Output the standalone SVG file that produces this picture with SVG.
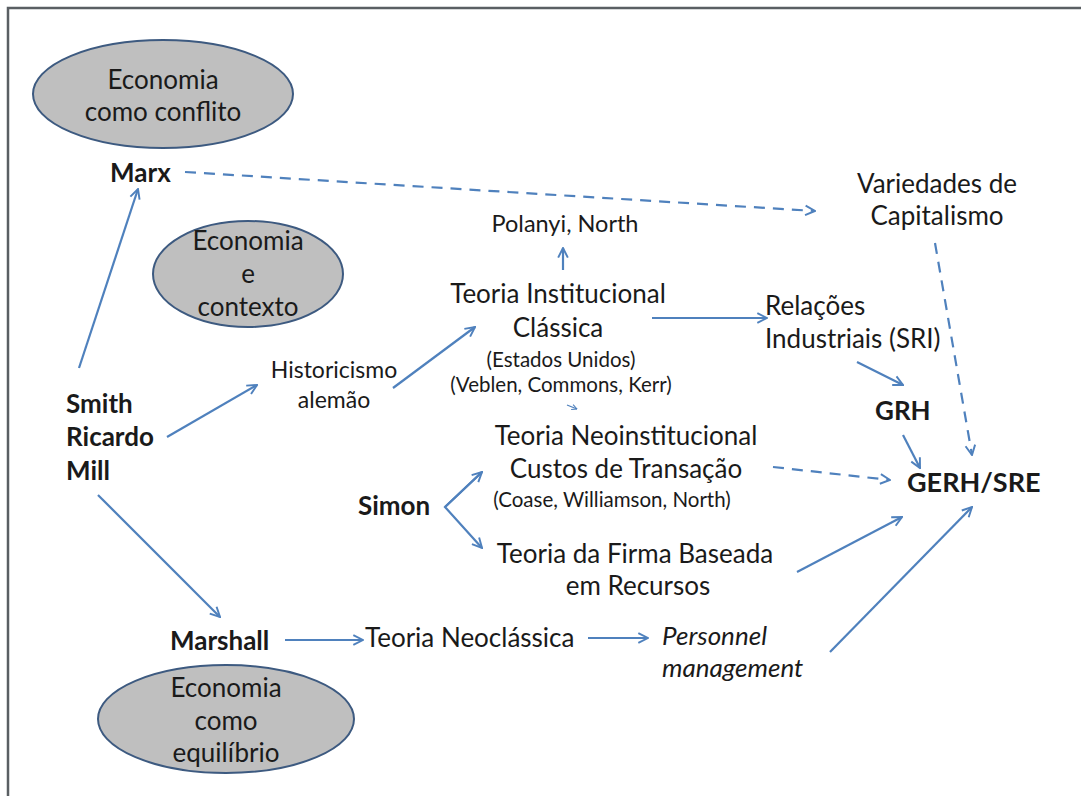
<svg xmlns="http://www.w3.org/2000/svg" width="1081" height="796" viewBox="0 0 1081 796">
<defs>
<marker id="ah" viewBox="0 0 10 10" refX="9" refY="5" markerWidth="5.5" markerHeight="5.5" orient="auto" markerUnits="strokeWidth">
<path d="M1,1 L9,5 L1,9" fill="none" stroke="#4F81BD" stroke-width="1.6"/>
</marker>
</defs>
<style>
.t{font-family:Lato,"Liberation Sans",sans-serif;font-size:26px;fill:#1a1a1a}
.s{font-size:20.5px}
.b{font-weight:bold}
.i{font-style:italic}
.m{text-anchor:middle}
.ell{fill:#BFBFBF;stroke:#3D5A80;stroke-width:2}
.c{fill:none;stroke:#4F81BD;stroke-width:2.2;marker-end:url(#ah)}
.d{stroke-dasharray:11 8}
</style>
<rect x="0" y="0" width="1081" height="796" fill="#fff"/>
<rect x="8" y="8" width="1200" height="900" fill="none" stroke="#5a5f63" stroke-width="2.5"/>

<g id="ell-conflito">
<ellipse class="ell" cx="163" cy="94" rx="130" ry="54"/>
<text class="t m" x="163" y="89">Economia</text>
<text class="t m" x="163" y="121">como conflito</text>
</g>
<g id="ell-contexto">
<ellipse class="ell" cx="248" cy="274" rx="95" ry="53"/>
<text class="t m" x="248" y="250">Economia</text>
<text class="t m" x="248" y="283">e</text>
<text class="t m" x="248" y="316">contexto</text>
</g>
<g id="ell-equilibrio">
<ellipse class="ell" cx="226" cy="719" rx="128" ry="54"/>
<text class="t m" x="226" y="697">Economia</text>
<text class="t m" x="226" y="730">como</text>
<text class="t m" x="226" y="762">equilíbrio</text>
</g>

<g id="marx"><text class="t b" x="110" y="182">Marx</text></g>
<g id="smith"><text class="t b" x="66" y="413">Smith</text><text class="t b" x="66" y="446">Ricardo</text><text class="t b" x="66" y="480">Mill</text></g>
<g id="historicismo"><text class="t m" x="334" y="378" style="font-size:23px">Historicismo</text><text class="t m" x="334" y="408" style="font-size:23px">alemão</text></g>
<g id="polanyi"><text class="t m" x="565" y="232" style="font-size:23.5px">Polanyi, North</text></g>
<g id="tic"><text class="t m" x="558" y="303">Teoria Institucional</text><text class="t m" x="558" y="337">Clássica</text><text class="t s m" x="561" y="367">(Estados Unidos)</text><text class="t s m" x="561" y="392">(Veblen, Commons, Kerr)</text></g>
<g id="variedades"><text class="t m" x="937" y="193">Variedades de</text><text class="t m" x="937" y="225">Capitalismo</text></g>
<g id="relacoes"><text class="t" x="765" y="315">Relações</text><text class="t" x="765" y="348">Industriais (SRI)</text></g>
<g id="grh"><text class="t b" x="875" y="420">GRH</text></g>
<g id="gerh"><text class="t b" x="907" y="492" style="font-size:27px">GERH/SRE</text></g>
<g id="neo"><text class="t m" x="626" y="445">Teoria Neoinstitucional</text><text class="t m" x="626" y="478">Custos de Transação</text><text class="t s m" x="612" y="507">(Coase, Williamson, North)</text></g>
<g id="simon"><text class="t b" x="358" y="515">Simon</text></g>
<g id="firma"><text class="t m" x="635" y="563">Teoria da Firma Baseada</text><text class="t m" x="638" y="595">em Recursos</text></g>
<g id="marshall"><text class="t b" x="170" y="650">Marshall</text></g>
<g id="neoclassica"><text class="t" x="365" y="647">Teoria Neoclássica</text></g>
<g id="personnel"><text class="t i" x="662" y="645">Personnel</text><text class="t i" x="662" y="677">management</text></g>

<g id="connectors">
<line class="c" x1="79" y1="368" x2="138" y2="189"/>
<line class="c" x1="167" y1="437" x2="257" y2="385"/>
<line class="c" x1="98" y1="495" x2="220" y2="617"/>
<line class="c" x1="393" y1="388" x2="475" y2="327"/>
<line class="c" x1="563" y1="270" x2="563" y2="248"/>
<line class="c" x1="652" y1="318" x2="767" y2="318"/>
<line class="c" x1="567" y1="405" x2="577" y2="409" style="stroke-width:1.2"/>
<line class="c d" x1="185" y1="172" x2="815" y2="211"/>
<line class="c d" x1="935" y1="243" x2="972" y2="455"/>
<line class="c" x1="857" y1="362" x2="903" y2="385"/>
<line class="c" x1="903" y1="435" x2="920" y2="468"/>
<line class="c d" x1="773" y1="467" x2="890" y2="480"/>
<path class="c" d="M482,472 L445,507 L482,548"/>
<line class="c" x1="445" y1="507" x2="482" y2="472"/>
<line class="c" x1="797" y1="572" x2="902" y2="517"/>
<line class="c" x1="830" y1="652" x2="972" y2="507"/>
<line class="c" x1="285" y1="640" x2="363" y2="640"/>
<line class="c" x1="588" y1="638" x2="648" y2="638"/>
</g>
</svg>
